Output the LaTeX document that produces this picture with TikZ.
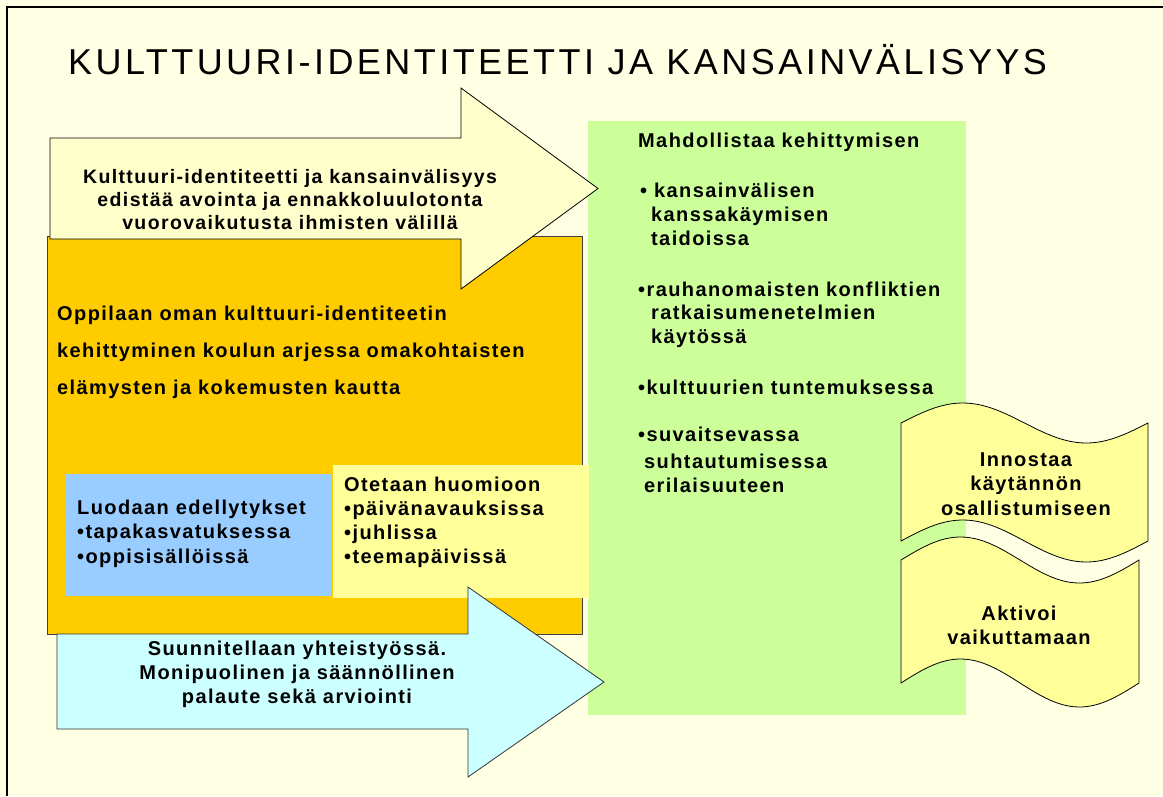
\documentclass[tikz,border=0pt]{standalone}
\usepackage{fontspec}
\setmainfont{Liberation Sans}
\newfontfamily\bodyf[LetterSpace=7]{Liberation Sans}
\newfontfamily\titlef[LetterSpace=9.6]{Liberation Sans}
\definecolor{bgc}{RGB}{255,255,227}
\definecolor{paleyel}{RGB}{255,255,204}
\definecolor{orangec}{RGB}{255,204,0}
\definecolor{greenc}{RGB}{204,255,153}
\definecolor{bluec}{RGB}{153,204,255}
\definecolor{yelc}{RGB}{255,255,153}
\definecolor{cyanc}{RGB}{204,255,255}
\tikzset{
  txt/.style={inner sep=0pt, font=\bodyf\bfseries\fontsize{20}{24}\selectfont},
  outl/.style={draw=black, line width=0.8pt},
}
\begin{document}
\begin{tikzpicture}[x=1pt,y=-1pt]
\useasboundingbox (0,0) rectangle (1163,796);
\fill[bgc] (0,0) rectangle (1163,796);
\draw[line width=2pt] (6.7,796) -- (6.7,6.7) -- (1163,6.7);
% green panel
\fill[greenc] (588,121) rectangle (966,715);
% orange panel
\draw[fill=orangec, draw=black!75, line width=0.8pt] (47,236) rectangle (582,634);
% top arrow
\draw[outl, fill=paleyel] (50,138) -- (461,138) -- (461,88) -- (598,188.5) -- (461,289) -- (461,239) -- (50,239) -- cycle;
% blue and yellow boxes
\fill[bluec] (66,474) rectangle (332,596);
\fill[yelc] (333,465) rectangle (589,598);
% bottom arrow
\draw[draw=black!80, line width=0.8pt, fill=cyanc] (57,634) -- (468,634) -- (468,587) -- (604,682) -- (468,777) -- (468,729) -- (57,729) -- cycle;
% waves
\draw[outl, fill=yelc] plot[domain=0:247, samples=60] ({901+\x},{423-20*sin(\x/247*360)})
  -- plot[domain=247:0, samples=60] ({901+\x},{541-21*sin(\x/247*360)}) -- cycle;
\draw[outl, fill=yelc] plot[domain=0:238, samples=60] ({901+\x},{560-23*sin(\x/238*360)})
  -- plot[domain=238:0, samples=60] ({901+\x},{683-24*sin(\x/238*360)}) -- cycle;
% title
\node[anchor=base west, inner sep=0pt, font=\titlef\fontsize{36}{40}\selectfont] (title) at (68,74) {KULTTUURI-IDENTITEETTI JA KANSAINVÄLISYYS};
% top arrow text (base = last line)
\node[txt, anchor=base, align=center, font=\bodyf\bfseries\fontsize{19.5}{23}\selectfont] (ta) at (290,229)
  {Kulttuuri-identiteetti ja kansainvälisyys\\edistää avointa ja ennakkoluulotonta\\vuorovaikutusta ihmisten välillä};
% orange text
\node[txt, anchor=base west, align=left, font=\bodyf\bfseries\fontsize{20}{37}\selectfont] (ot) at (57,394)
  {Oppilaan oman kulttuuri-identiteetin\\kehittyminen koulun arjessa omakohtaisten\\elämysten ja kokemusten kautta};
% green text
\node[txt, anchor=base west] (gh) at (638,147) {Mahdollistaa kehittymisen};
\node[txt, anchor=base west] (g1) at (640,197) {• kansainvälisen};
\node[txt, anchor=base west, align=left] (g1b) at (651,245) {kanssakäymisen\\taidoissa};
\node[txt, anchor=base west] (g2) at (638,296) {•rauhanomaisten konfliktien};
\node[txt, anchor=base west, align=left, font=\bodyf\bfseries\fontsize{20}{23.5}\selectfont] (g2b) at (651,343) {ratkaisumenetelmien\\käytössä};
\node[txt, anchor=base west] (g3) at (638,394) {•kulttuurien tuntemuksessa};
\node[txt, anchor=base west] (g4) at (638,441) {•suvaitsevassa};
\node[txt, anchor=base west, align=left] (g4b) at (644,492) {suhtautumisessa\\erilaisuuteen};
% blue text
\node[txt, anchor=base west, align=left, font=\bodyf\bfseries\fontsize{20}{24.5}\selectfont] (bt) at (77,563)
  {Luodaan edellytykset\\•tapakasvatuksessa\\•oppisisällöissä};
% yellow text
\node[txt, anchor=base west, align=left, font=\bodyf\bfseries\fontsize{20}{23.7}\selectfont] (yt) at (344,563)
  {Otetaan huomioon\\•päivänavauksissa\\•juhlissa\\•teemapäivissä};
% cyan text
\node[txt, anchor=base, align=center] (ct) at (297,703)
  {Suunnitellaan yhteistyössä.\\Monipuolinen ja säännöllinen\\palaute sekä arviointi};
% wave texts
\node[txt, anchor=base, align=center, font=\bodyf\bfseries\fontsize{20}{24.5}\selectfont] (w1) at (1026,515)
  {Innostaa\\käytännön\\osallistumiseen};
\node[txt, anchor=base, align=center] (w2) at (1019,644) {Aktivoi\\vaikuttamaan};
\end{tikzpicture}
\end{document}
